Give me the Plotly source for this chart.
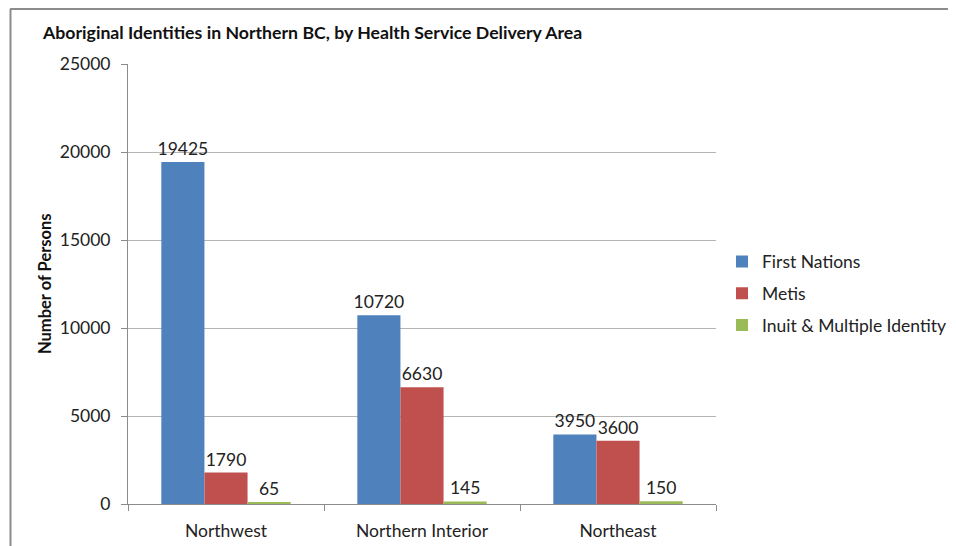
import plotly.graph_objects as go

areas = ["Northwest", "Northern Interior", "Northeast"]
first_nations = [19425, 10720, 3950]
metis = [1790, 6630, 3600]
inuit_multiple = [65, 145, 150]

series = [
    ("First Nations", first_nations, "#4f81bd"),
    ("Metis", metis, "#c0504d"),
    ("Inuit & Multiple Identity", inuit_multiple, "#9bbb59"),
]

FONT = "Lato, Calibri, Arial, sans-serif"

fig = go.Figure()
for name, vals, color in series:
    fig.add_trace(go.Bar(
        x=areas,
        y=vals,
        name=name,
        legendgroup=name,
        marker=dict(color=color, line=dict(width=0)),
        text=[str(v) for v in vals],
        textposition="outside",
        constraintext="none",
        cliponaxis=False,
        textfont=dict(family=FONT, size=17.5, color="#222222"),
    ))

# page body adds an 8px offset, so the figure is 948x538
W, H = 948, 538
L, R, T, B = 120, 240, 55.5, 42
pw, ph = W - L - R, H - T - B

fig.update_layout(
    width=W, height=H,
    margin=dict(l=L, r=R, t=T, b=B, autoexpand=False),
    paper_bgcolor="white",
    plot_bgcolor="white",
    barmode="group",
    bargap=0.34,
    bargroupgap=0,
    font=dict(family=FONT, size=17.5, color="#222222"),
    showlegend=True,
    legend=dict(
        x=(714 - L) / pw, y=0.478, xanchor="left", yanchor="middle",
        font=dict(family=FONT, size=17.5, color="#222222"),
        itemwidth=30, tracegroupgap=6,
    ),
    annotations=[
        dict(text="<b>Aboriginal Identities in Northern BC, by Health Service Delivery Area</b>",
             xref="paper", yref="paper", x=(32 - L) / pw, y=1 + (T - 24) / ph,
             xanchor="left", yanchor="middle", showarrow=False,
             font=dict(family=FONT, size=17.7, color="#111111")),
        dict(text="<b>Number of Persons</b>",
             xref="paper", yref="paper", x=(37 - L) / pw, y=0.5,
             xanchor="center", yanchor="middle", textangle=-90, showarrow=False,
             font=dict(family=FONT, size=16.5, color="#111111")),
    ],
    shapes=[
        dict(type="line", xref="paper", yref="paper",
             x0=(2 - L) / pw, x1=(W + 5 - L) / pw,
             y0=1 + (T - 0.5) / ph, y1=1 + (T - 0.5) / ph,
             line=dict(color="#8c8c8c", width=2)),
        dict(type="line", xref="paper", yref="paper",
             x0=(2.5 - L) / pw, x1=(2.5 - L) / pw,
             y0=1 + (T - 0.5) / ph, y1=-(B + 5) / ph,
             line=dict(color="#8c8c8c", width=2)),
    ],
)

fig.update_xaxes(
    showline=True, linecolor="#8c8c8c", linewidth=1,
    ticks="outside", tickson="boundaries", ticklen=6, tickcolor="#8c8c8c",
    tickfont=dict(family=FONT, size=17.5, color="#222222"),
    showgrid=False, ticklabelstandoff=11, automargin=False,
)
fig.update_yaxes(
    range=[0, 25000], dtick=5000, tickformat="d",
    showline=True, linecolor="#8c8c8c", linewidth=1,
    ticks="outside", ticklen=6, tickcolor="#8c8c8c",
    showgrid=True, gridcolor="#b5b5b5", gridwidth=1,
    tickfont=dict(family=FONT, size=17.5, color="#222222"),
    zeroline=False, ticklabelstandoff=7, automargin=False,
)

fig.write_html("out.html")
